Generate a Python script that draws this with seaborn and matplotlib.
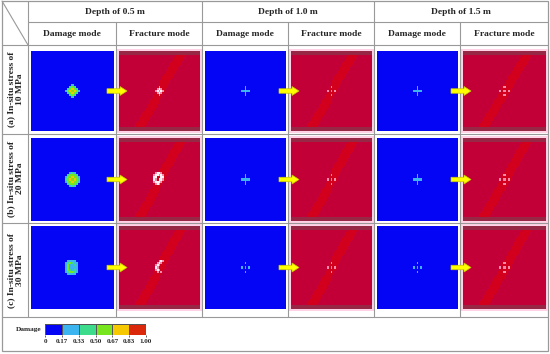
import numpy as np
import matplotlib.pyplot as plt
import matplotlib.patches as mpatches
from matplotlib.colors import ListedColormap
import seaborn as sns

# ---- chart data -------------------------------------------------------
depths = ["Depth of 0.5 m", "Depth of 1.0 m", "Depth of 1.5 m"]
modes = ["Damage mode", "Fracture mode"]
stress_labels = ["(a) In-situ stress of\n10 MPa",
                 "(b) In-situ stress of\n20 MPa",
                 "(c) In-situ stress of\n30 MPa"]
damage_ticks = ["0", "0.17", "0.33", "0.50", "0.67", "0.83", "1.00"]
damage_colors = ["#0505F5", "#3CB4F0", "#3CDC8C", "#78E61E", "#F5C800", "#DC280A"]

# damage around the borehole (cell values 0..1), one per stress / depth
spot_a05 = [[0, 0, 0, .3, 0, 0, 0],
            [0, 0, .4, .6, .4, 0, 0],
            [0, .4, .6, .7, .6, .4, 0],
            [.3, .6, .7, .6, .7, .6, .3],
            [0, .4, .6, .7, .6, .4, 0],
            [0, 0, .4, .6, .4, 0, 0],
            [0, 0, 0, .3, 0, 0, 0]]
spot_b05 = [[0, 0, .3, .4, .3, 0, 0],
            [0, .4, .5, .6, .5, .4, 0],
            [.3, .5, .6, .7, .6, .5, .3],
            [.4, .6, .7, .5, .7, .6, .4],
            [.3, .5, .6, .7, .6, .5, .3],
            [0, .4, .5, .6, .5, .4, 0],
            [0, 0, .3, .4, .3, 0, 0]]
spot_c05 = [[0, .2, .3, .3, .2, 0, 0],
            [.2, .4, .5, .4, .3, .2, 0],
            [.3, .5, .3, .2, .4, .3, 0],
            [.3, .5, .2, .2, .3, .2, 0],
            [.3, .5, .4, .3, .4, .3, 0],
            [.2, .4, .5, .5, .4, .2, 0],
            [0, .2, .3, .3, .2, 0, 0]]
spot_cross_g = [[0, 0, .25, 0, 0],
                [0, 0, .3, 0, 0],
                [.25, .3, .45, .3, .25],
                [0, 0, .3, 0, 0],
                [0, 0, .25, 0, 0]]
spot_cross_c = [[0, 0, .2, 0, 0],
                [0, 0, .25, 0, 0],
                [.2, .25, .3, .25, .2],
                [0, 0, .25, 0, 0],
                [0, 0, .2, 0, 0]]
spot_cross_b = [[0, 0, .2, 0, 0],
                [0, 0, 0, 0, 0],
                [.2, 0, .2, 0, .2],
                [0, 0, 0, 0, 0],
                [0, 0, .2, 0, 0]]
damage_spots = [[spot_a05, spot_cross_g, spot_cross_c],
                [spot_b05, spot_cross_c, spot_cross_c],
                [spot_c05, spot_cross_b, spot_cross_b]]

# fracture pattern around the borehole (3 = open crack, 4 = partial)
crack_a05 = [[0, 0, 4, 0, 0],
             [0, 4, 3, 4, 0],
             [4, 3, 4, 3, 4],
             [0, 4, 3, 4, 0],
             [0, 0, 4, 0, 0]]
crack_b05 = [[0, 4, 3, 3, 4, 0],
             [4, 3, 3, 4, 3, 4],
             [3, 3, 0, 0, 3, 3],
             [3, 4, 0, 3, 3, 4],
             [4, 3, 3, 3, 4, 0],
             [0, 4, 3, 4, 0, 0]]
crack_c05 = [[0, 0, 4, 3, 4],
             [0, 4, 3, 4, 0],
             [4, 3, 4, 0, 0],
             [3, 4, 0, 0, 0],
             [4, 3, 4, 0, 0],
             [0, 4, 0, 4, 0]]
crack_cross = [[0, 0, 4, 0, 0],
               [0, 0, 0, 0, 0],
               [4, 0, 4, 0, 4],
               [0, 0, 0, 0, 0],
               [0, 0, 4, 0, 0]]
fracture_spots = [[crack_a05, crack_cross, crack_cross],
                  [crack_b05, crack_cross, crack_cross],
                  [crack_c05, crack_cross, crack_cross]]
fracture_colors = ["#C20037", "#D2001C", "#962846", "#FFF0F5", "#F08CAA"]

# ---- layout (pixels) --------------------------------------------------
W, H = 550, 354
col_edges = [28, 116, 202, 288, 374, 460, 548]
img_rows = [(51, 131), (138, 221), (226, 309)]
row_edges = [45, 134, 223, 317]
N = 41
LINE = "#999999"
FONT = "Liberation Serif"


def fig_rect(x0, y0, x1, y1):
    return [x0 / W, 1 - y1 / H, (x1 - x0) / W, (y1 - y0) / H]


def place(field, spot):
    k = np.array(spot, dtype=float)
    r0 = N // 2 - k.shape[0] // 2
    c0 = N // 2 - k.shape[1] // 2
    sub = field[r0:r0 + k.shape[0], c0:c0 + k.shape[1]]
    sub[k > 0] = k[k > 0]
    return field


def damage_field(spot):
    return place(np.zeros((N, N)), spot)


def fracture_field(crack):
    yy, xx = np.mgrid[0:N, 0:N] / (N - 1)
    f = np.zeros((N, N))
    f[np.abs(xx - (0.8 - 0.58 * yy)) < 0.065] = 1
    f[:2, :] = 2
    f[-2:, :] = 2
    return place(f, crack)


sns.set_theme(style="white")
plt.rcParams["font.family"] = [FONT, "DejaVu Sans"]

fig = plt.figure(figsize=(5.5, 3.54), dpi=100)
bg = fig.add_axes([0, 0, 1, 1])
bg.set_xlim(0, W)
bg.set_ylim(H, 0)
bg.axis("off")

# table frame
bg.add_patch(mpatches.Rectangle((2, 1), 546, 350, fill=False, ec=LINE, lw=0.9))
bg.plot([2, 28], [1, 45], color=LINE, lw=0.8)
bg.plot([28, 548], [22, 22], color=LINE, lw=0.8)
for y in row_edges:
    bg.plot([2, 548], [y, y], color=LINE, lw=0.8)
for i, x in enumerate(col_edges[:-1]):
    top = 1 if i % 2 == 0 else 22
    bg.plot([x, x], [top, 317], color=LINE, lw=0.8)

# headers
for j, d in enumerate(depths):
    xc = (col_edges[2 * j] + col_edges[2 * j + 2]) / 2
    bg.text(xc, 12, d, ha="center", va="center", fontsize=6.8, fontweight="bold")
    for m, mode in enumerate(modes):
        xm = (col_edges[2 * j + m] + col_edges[2 * j + m + 1]) / 2
        bg.text(xm, 34, mode, ha="center", va="center", fontsize=6.8, fontweight="bold")

for i, lab in enumerate(stress_labels):
    yc = (row_edges[i] + row_edges[i + 1]) / 2
    bg.text(15.5, yc, lab, ha="center", va="center", rotation=90,
            fontsize=6.8, fontweight="bold", linespacing=1.1)

damage_cmap = ListedColormap(damage_colors)
fracture_cmap = ListedColormap(fracture_colors)

for i, (y0, y1) in enumerate(img_rows):
    for j in range(3):
        # damage mode
        x0, x1 = col_edges[2 * j] + 3, col_edges[2 * j + 1] - 2
        ax = fig.add_axes(fig_rect(x0, y0, x1, y1))
        sns.heatmap(damage_field(damage_spots[i][j]), ax=ax, cmap=damage_cmap,
                    vmin=0, vmax=1, cbar=False, xticklabels=False, yticklabels=False)
        ax.set_axis_off()
        # fracture mode
        x0, x1 = col_edges[2 * j + 1] + 3, col_edges[2 * j + 2] - 2
        bg.add_patch(mpatches.Rectangle((x0 - 2, y0 - 2), x1 - x0 + 4, y1 - y0 + 4,
                                        color="#FFD2E6", lw=0))
        ax = fig.add_axes(fig_rect(x0, y0, x1, y1))
        sns.heatmap(fracture_field(fracture_spots[i][j]), ax=ax, cmap=fracture_cmap,
                    vmin=-0.5, vmax=4.5, cbar=False, xticklabels=False, yticklabels=False)
        ax.set_axis_off()

# yellow arrows from damage to fracture
ov = fig.add_axes([0, 0, 1, 1], zorder=10)
ov.set_xlim(0, W)
ov.set_ylim(H, 0)
ov.axis("off")
ov.patch.set_alpha(0)
for i, (y0, y1) in enumerate(img_rows):
    yc = (y0 + y1) / 2
    for j in range(3):
        xa = col_edges[2 * j + 1] - 9
        ov.add_patch(mpatches.FancyArrow(xa, yc, 20, 0, width=4.5, head_width=9,
                                         head_length=7, length_includes_head=True,
                                         fc="#FFFF00", ec="#C8C800", lw=0.5))

# colour bar
tick_vals = np.array([float(t) for t in damage_ticks])
mids = (tick_vals[:-1] + tick_vals[1:]) / 2
cax = fig.add_axes(fig_rect(45, 324, 146, 335))
sns.heatmap([mids], ax=cax, cmap=damage_cmap, vmin=0, vmax=1, cbar=False,
            linewidths=0.6, linecolor="#555555", yticklabels=False)
cax.set_xticks(np.arange(len(damage_ticks)))
cax.set_xticklabels(damage_ticks, fontsize=5, fontweight="bold", rotation=0)
cax.tick_params(axis="x", length=1.5, width=0.5, pad=1.5, bottom=True)
bg.text(41, 330, "Damage", ha="right", va="center", fontsize=5.3, fontweight="bold")

fig.savefig("out.png", dpi=100)
